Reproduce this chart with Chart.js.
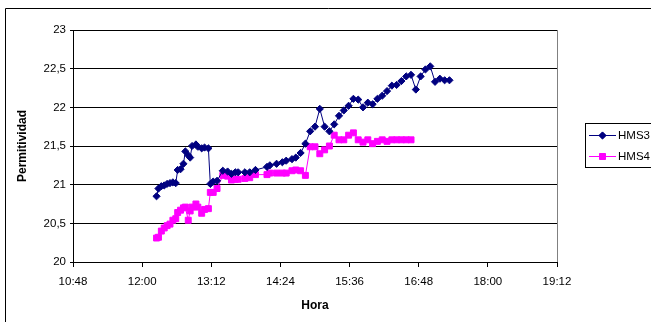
<!DOCTYPE html>
<html>
<head>
<meta charset="utf-8">
<script src="https://cdn.jsdelivr.net/npm/chart.js@4/dist/chart.umd.min.js"></script>
<style>
  html, body { margin: 0; padding: 0; background: #fff; }
  canvas { display: block; }
</style>
</head>
<body>
<canvas id="chart" width="651" height="322"></canvas>
<script>
// Sampling times (hh:mm), shared by both sensors
const horas = [
  "12:15","12:17","12:20","12:23","12:26","12:29","12:32","12:35","12:37","12:40",
  "12:43","12:45","12:48","12:50","12:52","12:56","12:58","13:02","13:05","13:09",
  "13:11","13:14","13:18","13:24","13:29","13:33","13:37","13:40","13:47","13:52",
  "13:58","14:10","14:13","14:20","14:26","14:30","14:36","14:40","14:45","14:50",
  "14:55","15:00","15:05","15:10","15:15","15:20","15:25","15:30","15:35","15:40",
  "15:45","15:50","15:55","16:00","16:05","16:10","16:15","16:20","16:25","16:30",
  "16:35","16:40","16:45","16:50","16:55","17:00","17:05","17:10","17:15","17:20"
];

// Permittivity readings, sensor HMS3
const hms3 = [
  20.85, 20.95, 20.98, 20.99, 21.01, 21.02, 21.03, 21.02, 21.19, 21.20,
  21.27, 21.43, 21.38, 21.35, 21.50, 21.52, 21.49, 21.47, 21.48, 21.47,
  21.01, 21.04, 21.05, 21.18, 21.17, 21.14, 21.16, 21.16, 21.16, 21.16,
  21.19, 21.23, 21.25, 21.27, 21.29, 21.31, 21.33, 21.35, 21.41, 21.53,
  21.69, 21.75, 21.98, 21.75, 21.69, 21.78, 21.89, 21.96, 22.02, 22.11,
  22.10, 22.00, 22.06, 22.04, 22.11, 22.15, 22.21, 22.28, 22.29, 22.34,
  22.40, 22.42, 22.23, 22.40, 22.49, 22.53, 22.33, 22.37, 22.35, 22.35
];

// Permittivity readings, sensor HMS4 (ends at 16:40)
const hms4 = [
  20.31, 20.32, 20.40, 20.44, 20.47, 20.49, 20.54, 20.56, 20.64, 20.67,
  20.70, 20.71, 20.54, 20.66, 20.71, 20.75, 20.71, 20.63, 20.68, 20.69,
  20.90, 20.90, 20.95, 21.12, 21.11, 21.06, 21.07, 21.07, 21.08, 21.09,
  21.13, 21.13, 21.15, 21.15, 21.15, 21.15, 21.18, 21.19, 21.18, 21.12,
  21.49, 21.49, 21.40, 21.45, 21.50, 21.64, 21.58, 21.58, 21.64, 21.67,
  21.58, 21.55, 21.58, 21.53, 21.56, 21.58, 21.56, 21.58, 21.58, 21.58,
  21.58, 21.58
];

// Axis ticks
const xTicks = ["10:48","12:00","13:12","14:24","15:36","16:48","18:00","19:12"];
const yTicks = [20, 20.5, 21, 21.5, 22, 22.5, 23];

const toMin = s => { const [h, m] = s.split(":").map(Number); return h * 60 + m; };
const fmtTime = v => {
  const h = Math.floor(v / 60), m = Math.round(v - h * 60);
  return h + ":" + String(m).padStart(2, "0");
};
const pts = vals => vals.map((y, i) => ({ x: toMin(horas[i]), y }));

const xMin = toMin(xTicks[0]), xMax = toMin(xTicks[xTicks.length - 1]);
const xStep = toMin(xTicks[1]) - toMin(xTicks[0]);

const FONT = "'Liberation Sans', Arial, sans-serif";

const series = [
  { label: "HMS3", data: pts(hms3), color: "#000080", style: "rectRot", r: 3.6 },
  { label: "HMS4", data: pts(hms4), color: "#FF00FF", style: "rect", r: 4.2 }
];

// Outer frame, plot border and boxed legend
const decor = {
  id: "decor",
  afterDraw(chart) {
    const ctx = chart.ctx, a = chart.chartArea;
    ctx.save();
    ctx.lineWidth = 1;
    // chart frame
    ctx.strokeStyle = "#000";
    ctx.beginPath();
    ctx.moveTo(5.5, 340); ctx.lineTo(5.5, 8.5); ctx.lineTo(700, 8.5);
    ctx.stroke();
    // right edge of plot area
    ctx.strokeStyle = "#808080";
    ctx.beginPath();
    ctx.moveTo(Math.round(a.right) + 0.5, a.top); ctx.lineTo(Math.round(a.right) + 0.5, a.bottom);
    ctx.stroke();
    // legend box
    const bx = 585.5, by = 123.5, bw = 80, bh = 44;
    ctx.strokeStyle = "#000";
    ctx.fillStyle = "#fff";
    ctx.fillRect(bx, by, bw, bh);
    ctx.strokeRect(bx, by, bw, bh);
    ctx.font = "11.5px " + FONT;
    ctx.textBaseline = "middle";
    series.forEach((s, i) => {
      const y = 135 + i * 21;
      ctx.strokeStyle = s.color;
      ctx.beginPath();
      ctx.moveTo(589, y + 0.5); ctx.lineTo(616, y + 0.5);
      ctx.stroke();
      ctx.fillStyle = s.color;
      Chart.helpers.drawPoint(ctx, { pointStyle: s.style, radius: s.r, borderWidth: 1 }, 602.5, y + 0.5);
      ctx.fill();
      ctx.fillStyle = "#000";
      ctx.fillText(s.label, 618, y + 1);
    });
    ctx.restore();
  }
};

new Chart(document.getElementById("chart"), {
  type: "scatter",
  data: {
    datasets: series.map(s => ({
      label: s.label,
      data: s.data,
      showLine: true,
      borderColor: s.color,
      backgroundColor: s.color,
      borderWidth: 1,
      pointStyle: s.style,
      pointRadius: s.r,
      pointBorderWidth: 1,
      pointBackgroundColor: s.color,
      pointBorderColor: s.color,
      tension: 0
    }))
  },
  options: {
    responsive: false,
    animation: false,
    layout: { padding: { left: 0, top: 30, right: 94, bottom: 0 } },
    plugins: { legend: { display: false }, tooltip: { enabled: false } },
    scales: {
      x: {
        type: "linear",
        min: xMin, max: xMax,
        afterBuildTicks: sc => { sc.ticks = xTicks.map(t => ({ value: toMin(t) })); },
        afterFit: sc => { sc.height = 60; },
        ticks: {
          stepSize: xStep,
          callback: v => fmtTime(v),
          color: "#000",
          font: { family: FONT, size: 11.5 },
          padding: 8,
          maxRotation: 0
        },
        grid: { drawOnChartArea: false, drawTicks: true, tickLength: 5, color: "#000" },
        border: { color: "#000" },
        title: {
          display: true, text: "Hora", color: "#000",
          font: { family: FONT, size: 12, weight: "bold" },
          padding: { top: 0, bottom: 9 }
        }
      },
      y: {
        min: yTicks[0], max: yTicks[yTicks.length - 1],
        afterBuildTicks: sc => { sc.ticks = yTicks.map(v => ({ value: v })); },
        afterFit: sc => { sc.width = 73; },
        ticks: {
          callback: v => String(v).replace(".", ","),
          color: "#000",
          font: { family: FONT, size: 11.5 },
          padding: 4
        },
        grid: { color: "#000", tickLength: 3 },
        border: { color: "#000" },
        title: {
          display: true, text: "Permitividad", color: "#000",
          font: { family: FONT, size: 12, weight: "bold" },
          padding: { top: 15, bottom: 0 }
        }
      }
    }
  },
  plugins: [decor]
});
</script>
</body>
</html>
